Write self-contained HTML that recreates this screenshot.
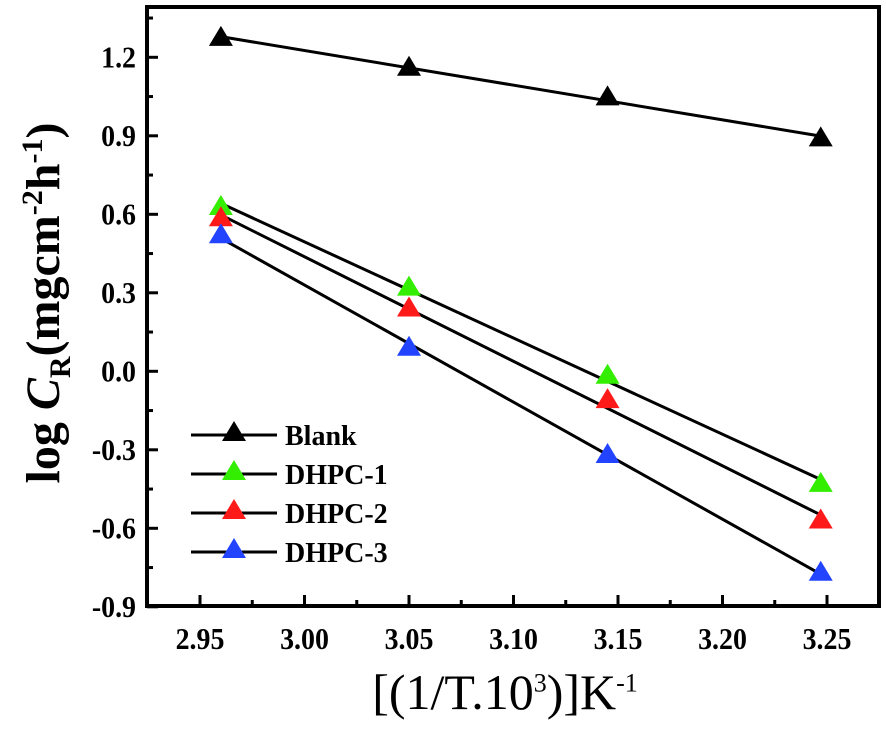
<!DOCTYPE html>
<html><head><meta charset="utf-8"><style>
body{margin:0;background:#fff}
svg text{font-family:"Liberation Serif",serif;font-weight:bold}
</style></head><body>
<svg id="chart" width="886" height="727" xmlns="http://www.w3.org/2000/svg"></svg>
<script>
const xVals=[2.96,3.05,3.145,3.247];
const seriesNames=["Blank","DHPC-1","DHPC-2","DHPC-3"];
const blank=[1.274,1.16,1.047,0.89];
const dhpc1=[0.628,0.32,-0.017,-0.43];
const dhpc2=[0.585,0.24,-0.11,-0.57];
const dhpc3=[0.52,0.09,-0.32,-0.77];
const xTicks=["2.95","3.00","3.05","3.10","3.15","3.20","3.25"];
const yTicks=["-0.9","-0.6","-0.3","0.0","0.3","0.6","0.9","1.2"];
const colors=["#000","#33ee00","#ff1a1a","#2244ff"];
const series=[blank,dhpc1,dhpc2,dhpc3];
const NS="http://www.w3.org/2000/svg";
const svg=document.getElementById('chart');
const L=147,R=879,T=7,B=606;
const X=v=>200+(v-2.95)/0.05*104.5;
const Y=v=>57.3+(1.2-v)/0.3*78.5;
function mk(tag,a,p){const e=document.createElementNS(NS,tag);for(const k in a)e.setAttribute(k,a[k]);(p||svg).appendChild(e);return e;}
function tri(cx,cy,c,p){return mk('polygon',{points:`${cx},${cy-12} ${cx-12},${cy+8} ${cx+12},${cy+8}`,fill:c},p);}
series.forEach((s,i)=>{
  const n=xVals.length;let sx=0,sy=0,sxx=0,sxy=0;
  for(let j=0;j<n;j++){sx+=xVals[j];sy+=s[j];sxx+=xVals[j]*xVals[j];sxy+=xVals[j]*s[j];}
  const b=(n*sxy-sx*sy)/(n*sxx-sx*sx),a=(sy-b*sx)/n;
  const x0=xVals[0],x1=xVals[n-1];
  const ln=mk('line',{x1:X(x0),y1:Y(a+b*x0),x2:X(x1),y2:Y(a+b*x1),stroke:'#000','stroke-width':3});
  
  
  s.forEach((v,j)=>{
    const t=tri(X(xVals[j]),Y(v),colors[i]);
    
    
  });
});
const fr=mk('rect',{x:L,y:T,width:R-L,height:B-T,fill:'none',stroke:'#000','stroke-width':4});


xTicks.forEach((t,i)=>{
  const v=parseFloat(t),x=X(v);
  mk('line',{x1:x,y1:B,x2:x,y2:B-11,stroke:'#000','stroke-width':3});
  if(i<xTicks.length-1){const xm=X(v+0.025);mk('line',{x1:xm,y1:B,x2:xm,y2:B-6,stroke:'#000','stroke-width':3});}
  const tx=mk('text',{x:x,y:649,'text-anchor':'middle','font-size':31,'transform':`translate(${x},0) scale(0.9,1) translate(${-x},0)`});
  tx.textContent=t;
  
  
});
yTicks.forEach((t,i)=>{
  const v=parseFloat(t),y=Y(v);
  mk('line',{x1:L,y1:y,x2:L+11,y2:y,stroke:'#000','stroke-width':3});
  const ym=Y(v+0.15);mk('line',{x1:L,y1:ym,x2:L+6,y2:ym,stroke:'#000','stroke-width':3});
  const ty=mk('text',{x:136,y:y+10,'text-anchor':'end','font-size':31,'transform':`translate(136,0) scale(0.9,1) translate(-136,0)`});
  ty.textContent=t;
  
  
});
const legY=[435,474,513,552];
seriesNames.forEach((n,i)=>{
  const g=mk('g',{});
  
  
  mk('line',{x1:191,y1:legY[i],x2:277,y2:legY[i],stroke:'#000','stroke-width':3},g);
  tri(234,legY[i]-2,colors[i],g);
  const t=mk('text',{x:285,y:legY[i]+10,'font-size':28},g);t.textContent=n;
});
</script>
<div style="position:absolute;left:47px;top:303px;transform:translate(-50%,-50%) rotate(-90deg);white-space:nowrap;font-family:'Liberation Serif',serif;font-weight:bold;font-size:48px">log <i>C</i><sub style="font-size:30px">R</sub>(mgcm<sup style="font-size:30px">-2</sup>h<sup style="font-size:30px">-1</sup>)</div>
<div style="position:absolute;left:505px;top:692px;transform:translate(-50%,-50%);white-space:nowrap;font-family:'Liberation Serif',serif;font-size:50px">[(1/T.10<sup style="font-size:26px">3</sup>)]K<sup style="font-size:26px">-1</sup></div>
</body></html>
